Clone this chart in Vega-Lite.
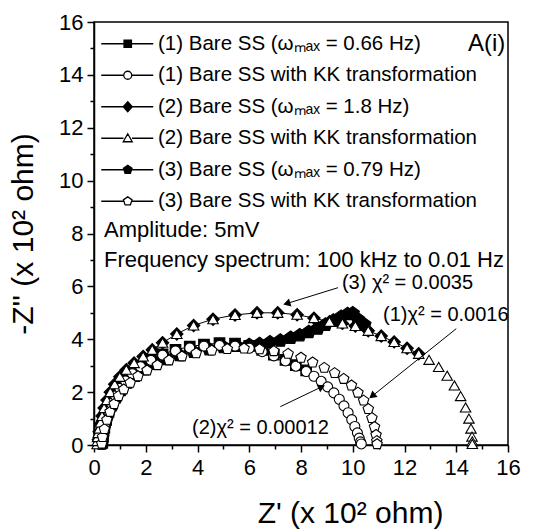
{
"$schema":"https://vega.github.io/schema/vega-lite/v6.json",
"autosize":"none",
"width":414,"height":423,
"padding":{"left":94,"top":22,"right":33,"bottom":86},
"background":"white",
"config":{"font":"Liberation Sans","view":{"stroke":"black","strokeWidth":1.5},
"axis":{"grid":false,"domainColor":"black","domainWidth":1.5,"tickColor":"black","tickWidth":1.5,"labelColor":"black","labelFontSize":22,"labelFont":"Liberation Sans","titleColor":"black","titleFont":"Liberation Sans","titleFontSize":30,"titleFontWeight":"normal","labelOverlap":false,"labelFlush":false}},
"datasets":{
"series":[{"s":"1","name":"(1) Bare SS (ωₘₐₓ = 0.66 Hz)"},{"s":"1K","name":"(1) Bare SS with KK transformation"},{"s":"2","name":"(2) Bare SS (ωₘₐₓ = 1.8 Hz)"},{"s":"2K","name":"(2) Bare SS with KK transformation"},{"s":"3","name":"(3) Bare SS (ωₘₐₓ = 0.79 Hz)"},{"s":"3K","name":"(3) Bare SS with KK transformation"}],
"imp":[
{"s":"1","x":0.32,"y":0.08},{"s":"1","x":0.35,"y":0.35},{"s":"1","x":0.4,"y":0.65},{"s":"1","x":0.47,"y":0.95},{"s":"1","x":0.56,"y":1.25},{"s":"1","x":0.68,"y":1.55},{"s":"1","x":0.83,"y":1.85},{"s":"1","x":1.0,"y":2.13},{"s":"1","x":1.22,"y":2.42},{"s":"1","x":1.48,"y":2.7},{"s":"1","x":1.8,"y":2.97},{"s":"1","x":2.2,"y":3.22},{"s":"1","x":2.65,"y":3.43},{"s":"1","x":3.15,"y":3.6},{"s":"1","x":3.7,"y":3.72},{"s":"1","x":4.25,"y":3.8},{"s":"1","x":4.85,"y":3.85},{"s":"1","x":5.45,"y":3.84},{"s":"1","x":6.0,"y":3.75},{"s":"1","x":6.5,"y":3.6},{"s":"1","x":6.95,"y":3.42},{"s":"1","x":7.4,"y":3.22},{"s":"1","x":7.8,"y":3.02},{"s":"1","x":8.2,"y":2.82},
{"s":"2","x":0.17,"y":0.2},{"s":"2","x":0.2,"y":0.5},{"s":"2","x":0.25,"y":0.8},{"s":"2","x":0.31,"y":1.1},{"s":"2","x":0.39,"y":1.4},{"s":"2","x":0.5,"y":1.7},{"s":"2","x":0.63,"y":2.0},{"s":"2","x":0.8,"y":2.3},{"s":"2","x":1.0,"y":2.58},{"s":"2","x":1.25,"y":2.85},{"s":"2","x":1.55,"y":3.1},{"s":"2","x":1.9,"y":3.35},{"s":"2","x":2.25,"y":3.6},{"s":"2","x":2.65,"y":3.87},{"s":"2","x":3.2,"y":4.2},{"s":"2","x":3.85,"y":4.52},{"s":"2","x":4.6,"y":4.76},{"s":"2","x":5.45,"y":4.92},{"s":"2","x":6.3,"y":5.0},{"s":"2","x":7.1,"y":5.0},{"s":"2","x":7.85,"y":4.93},{"s":"2","x":8.5,"y":4.8},{"s":"2","x":9.1,"y":4.66},{"s":"2","x":9.6,"y":4.6},{"s":"2","x":10.1,"y":4.5},{"s":"2","x":10.6,"y":4.32},{"s":"2","x":11.1,"y":4.12},{"s":"2","x":11.6,"y":3.9},{"s":"2","x":12.1,"y":3.66},{"s":"2","x":12.55,"y":3.45},
{"s":"3","x":0.3,"y":0.05},{"s":"3","x":0.33,"y":0.3},{"s":"3","x":0.38,"y":0.6},{"s":"3","x":0.46,"y":0.9},{"s":"3","x":0.56,"y":1.2},{"s":"3","x":0.7,"y":1.5},{"s":"3","x":0.86,"y":1.8},{"s":"3","x":1.05,"y":2.08},{"s":"3","x":1.3,"y":2.36},{"s":"3","x":1.6,"y":2.62},{"s":"3","x":1.95,"y":2.86},{"s":"3","x":2.35,"y":3.07},{"s":"3","x":2.8,"y":3.25},{"s":"3","x":3.3,"y":3.4},{"s":"3","x":3.85,"y":3.52},{"s":"3","x":4.45,"y":3.62},{"s":"3","x":5.0,"y":3.7},{"s":"3","x":5.5,"y":3.75},{"s":"3","x":6.0,"y":3.78},{"s":"3","x":6.4,"y":3.82},{"s":"3","x":6.8,"y":3.88},{"s":"3","x":7.2,"y":3.95},{"s":"3","x":7.6,"y":4.05},{"s":"3","x":7.95,"y":4.15},{"s":"3","x":8.3,"y":4.27},{"s":"3","x":8.65,"y":4.4},{"s":"3","x":8.95,"y":4.55},{"s":"3","x":9.25,"y":4.7},{"s":"3","x":9.55,"y":4.85},{"s":"3","x":9.8,"y":4.95},{"s":"3","x":10.0,"y":4.98},{"s":"3","x":10.2,"y":4.75},{"s":"3","x":10.45,"y":4.55},
{"s":"1K","x":0.3,"y":0.03},{"s":"1K","x":0.32,"y":0.2},{"s":"1K","x":0.35,"y":0.45},{"s":"1K","x":0.4,"y":0.72},{"s":"1K","x":0.47,"y":1.0},{"s":"1K","x":0.56,"y":1.28},{"s":"1K","x":0.68,"y":1.57},{"s":"1K","x":0.83,"y":1.86},{"s":"1K","x":1.0,"y":2.14},{"s":"1K","x":1.22,"y":2.42},{"s":"1K","x":1.48,"y":2.7},{"s":"1K","x":1.8,"y":2.96},{"s":"1K","x":2.2,"y":3.2},{"s":"1K","x":2.65,"y":3.4},{"s":"1K","x":3.15,"y":3.56},{"s":"1K","x":3.7,"y":3.67},{"s":"1K","x":4.25,"y":3.74},{"s":"1K","x":4.85,"y":3.77},{"s":"1K","x":5.45,"y":3.74},{"s":"1K","x":6.0,"y":3.66},{"s":"1K","x":6.5,"y":3.53},{"s":"1K","x":6.95,"y":3.37},{"s":"1K","x":7.4,"y":3.18},{"s":"1K","x":7.8,"y":2.98},{"s":"1K","x":8.2,"y":2.78},{"s":"1K","x":8.5,"y":2.6},{"s":"1K","x":8.78,"y":2.41},{"s":"1K","x":9.03,"y":2.2},{"s":"1K","x":9.27,"y":1.97},{"s":"1K","x":9.48,"y":1.73},{"s":"1K","x":9.66,"y":1.48},{"s":"1K","x":9.82,"y":1.22},{"s":"1K","x":9.96,"y":0.96},{"s":"1K","x":10.08,"y":0.7},{"s":"1K","x":10.18,"y":0.46},{"s":"1K","x":10.25,"y":0.26},{"s":"1K","x":10.3,"y":0.12},{"s":"1K","x":10.33,"y":0.04},
{"s":"2K","x":0.12,"y":0.03},{"s":"2K","x":0.13,"y":0.15},{"s":"2K","x":0.14,"y":0.3},{"s":"2K","x":0.16,"y":0.45},{"s":"2K","x":0.2,"y":0.62},{"s":"2K","x":0.25,"y":0.85},{"s":"2K","x":0.31,"y":1.1},{"s":"2K","x":0.39,"y":1.4},{"s":"2K","x":0.5,"y":1.7},{"s":"2K","x":0.63,"y":2.0},{"s":"2K","x":0.8,"y":2.3},{"s":"2K","x":1.0,"y":2.58},{"s":"2K","x":1.25,"y":2.85},{"s":"2K","x":1.55,"y":3.1},{"s":"2K","x":1.9,"y":3.35},{"s":"2K","x":2.25,"y":3.6},{"s":"2K","x":2.65,"y":3.87},{"s":"2K","x":3.2,"y":4.2},{"s":"2K","x":3.85,"y":4.52},{"s":"2K","x":4.6,"y":4.76},{"s":"2K","x":5.45,"y":4.92},{"s":"2K","x":6.3,"y":5.0},{"s":"2K","x":7.1,"y":5.0},{"s":"2K","x":7.85,"y":4.93},{"s":"2K","x":8.5,"y":4.8},{"s":"2K","x":9.1,"y":4.66},{"s":"2K","x":9.6,"y":4.6},{"s":"2K","x":10.1,"y":4.5},{"s":"2K","x":10.6,"y":4.32},{"s":"2K","x":11.1,"y":4.12},{"s":"2K","x":11.6,"y":3.9},{"s":"2K","x":12.1,"y":3.66},{"s":"2K","x":12.55,"y":3.45},{"s":"2K","x":12.95,"y":3.22},{"s":"2K","x":13.32,"y":2.95},{"s":"2K","x":13.65,"y":2.62},{"s":"2K","x":13.93,"y":2.25},{"s":"2K","x":14.17,"y":1.85},{"s":"2K","x":14.36,"y":1.42},{"s":"2K","x":14.49,"y":1.0},{"s":"2K","x":14.57,"y":0.62},{"s":"2K","x":14.61,"y":0.32},{"s":"2K","x":14.62,"y":0.14},{"s":"2K","x":14.62,"y":0.04},
{"s":"3K","x":0.3,"y":0.05},{"s":"3K","x":0.33,"y":0.3},{"s":"3K","x":0.4,"y":0.6},{"s":"3K","x":0.5,"y":0.95},{"s":"3K","x":0.62,"y":1.25},{"s":"3K","x":0.78,"y":1.55},{"s":"3K","x":0.95,"y":1.85},{"s":"3K","x":1.15,"y":2.1},{"s":"3K","x":1.4,"y":2.35},{"s":"3K","x":1.7,"y":2.6},{"s":"3K","x":2.05,"y":2.82},{"s":"3K","x":2.45,"y":3.02},{"s":"3K","x":2.9,"y":3.2},{"s":"3K","x":3.4,"y":3.35},{"s":"3K","x":3.95,"y":3.47},{"s":"3K","x":4.55,"y":3.57},{"s":"3K","x":5.15,"y":3.63},{"s":"3K","x":5.8,"y":3.65},{"s":"3K","x":6.4,"y":3.62},{"s":"3K","x":6.95,"y":3.55},{"s":"3K","x":7.5,"y":3.45},{"s":"3K","x":8.0,"y":3.3},{"s":"3K","x":8.45,"y":3.12},{"s":"3K","x":8.9,"y":2.92},{"s":"3K","x":9.3,"y":2.72},{"s":"3K","x":9.65,"y":2.5},{"s":"3K","x":9.95,"y":2.25},{"s":"3K","x":10.2,"y":1.98},{"s":"3K","x":10.42,"y":1.68},{"s":"3K","x":10.6,"y":1.36},{"s":"3K","x":10.74,"y":1.02},{"s":"3K","x":10.84,"y":0.68},{"s":"3K","x":10.9,"y":0.38},{"s":"3K","x":10.93,"y":0.15},{"s":"3K","x":10.94,"y":0.03}
],
"notes":[{"t":"Amplitude: 5mV","x":0.39,"y":8.13},{"t":"Frequency spectrum: 100 kHz to 0.01 Hz","x":0.39,"y":6.98}],
"chi":[{"t":"(3) χ² = 0.0035","x":9.58,"y":6.13},{"t":"(1)χ² = 0.0016","x":11.17,"y":4.92},{"t":"(2)χ² = 0.00012","x":3.79,"y":0.64}],
"panel":[{"t":"A(i)","x":14.45,"y":15.17}],
"arrows":[{"a":"3","x":9.43,"y":5.95,"x2":7.45,"y2":5.35},{"a":"1","x":14.0,"y":4.4,"x2":10.75,"y2":1.85},{"a":"2","x":7.2,"y":1.45,"x2":8.8,"y2":2.2}]
},
"encoding":{
"x":{"field":"x","type":"quantitative","scale":{"domain":[0,16],"nice":false},"axis":{"title":"Z' (x 10² ohm)","values":[0,1,2,3,4,5,6,7,8,9,10,11,12,13,14,15,16],"labelExpr":"datum.value % 2 == 0 ? datum.label : ''","tickSize":{"condition":{"test":"datum.value % 2 == 0","value":7},"value":4},"labelPadding":5,"titlePadding":20,"titleX":256}},
"y":{"field":"y","type":"quantitative","scale":{"domain":[0,16],"nice":false},"axis":{"title":"-Z'' (x 10² ohm)","values":[0,1,2,3,4,5,6,7,8,9,10,11,12,13,14,15,16],"labelExpr":"datum.value % 2 == 0 ? datum.label : ''","tickSize":{"condition":{"test":"datum.value % 2 == 0","value":7},"value":4},"labelPadding":4,"titlePadding":20}}
},
"layer":[
{"data":{"name":"series"},"transform":[{"filter":"false"}],
 "mark":{"type":"point","filled":true,"opacity":1,"strokeWidth":1.3},
 "encoding":{
  "shape":{"field":"name","type":"nominal","scale":{"domain":["(1) Bare SS (ωₘₐₓ = 0.66 Hz)","(1) Bare SS with KK transformation","(2) Bare SS (ωₘₐₓ = 1.8 Hz)","(2) Bare SS with KK transformation","(3) Bare SS (ωₘₐₓ = 0.79 Hz)","(3) Bare SS with KK transformation"],"range":["M-5.3,0H-0.8M0.8,0H5.1M-0.74,-0.74H0.74V0.74H-0.74Z","M-5.3,0H-0.8M0.8,0H5.1M0.8,0A0.8,0.8 0 1,1 -0.8,0A0.8,0.8 0 1,1 0.8,0Z","M-5.3,0H-0.9M0.9,0H5.1M0,-1L0.9,0L0,1L-0.9,0Z","M-5.3,0H-0.85M0.85,0H5.1M0,-0.9L0.9,0.7L-0.9,0.7Z","M-5.3,0H-0.85M0.85,0H5.1M0,-0.9L0.856,-0.278L0.529,0.728L-0.529,0.728L-0.856,-0.278Z","M-5.3,0H-0.85M0.85,0H5.1M0,-0.9L0.856,-0.278L0.529,0.728L-0.529,0.728L-0.856,-0.278Z"]},
   "legend":{"orient":"none","legendX":23.5,"legendY":11.5,"title":null,"padding":0,"labelFont":"Liberation Sans","labelFontSize":20.5,"labelColor":"black","labelLimit":500,"labelOffset":20,"symbolSize":100,"symbolStrokeWidth":1.3,"symbolStrokeColor":"black","symbolOpacity":1,"rowPadding":10.5}},
  "fill":{"field":"name","type":"nominal","scale":{"domain":["(1) Bare SS (ωₘₐₓ = 0.66 Hz)","(1) Bare SS with KK transformation","(2) Bare SS (ωₘₐₓ = 1.8 Hz)","(2) Bare SS with KK transformation","(3) Bare SS (ωₘₐₓ = 0.79 Hz)","(3) Bare SS with KK transformation"],"range":["black","white","black","white","black","white"]}},
  "stroke":{"field":"name","type":"nominal","scale":{"domain":["(1) Bare SS (ωₘₐₓ = 0.66 Hz)","(1) Bare SS with KK transformation","(2) Bare SS (ωₘₐₓ = 1.8 Hz)","(2) Bare SS with KK transformation","(3) Bare SS (ωₘₐₓ = 0.79 Hz)","(3) Bare SS with KK transformation"],"range":["black","black","black","black","black","black"]}}
 }},
{"data":{"name":"imp"},"transform":[{"filter":"datum.s=='1'||datum.s=='2'||datum.s=='3'"}],
 "mark":{"type":"line","stroke":"black","strokeWidth":1},
 "encoding":{"detail":{"field":"s","type":"nominal"}}},
{"data":{"name":"imp"},"transform":[{"filter":"datum.s=='1'||datum.s=='2'||datum.s=='3'"}],
 "mark":{"type":"point","filled":true,"fill":"black","stroke":"black","strokeWidth":1.2,"opacity":1},
 "encoding":{
  "shape":{"field":"s","type":"nominal","scale":{"domain":["1","2","3"],"range":["square","diamond","M0,-1L0.951,-0.309L0.588,0.809L-0.588,0.809L-0.951,-0.309Z"]},"legend":null},
  "size":{"field":"s","type":"nominal","scale":{"domain":["1","2","3"],"range":[110,190,180]},"legend":null}}},
{"data":{"name":"imp"},"transform":[{"filter":"datum.s=='1K'||datum.s=='2K'||datum.s=='3K'"}],
 "mark":{"type":"point","filled":true,"fill":"white","stroke":"black","strokeWidth":1.1,"opacity":1},
 "encoding":{
  "shape":{"field":"s","type":"nominal","scale":{"domain":["1K","2K","3K"],"range":["circle","triangle-up","M0,-1L0.951,-0.309L0.588,0.809L-0.588,0.809L-0.951,-0.309Z"]},"legend":null},
  "size":{"field":"s","type":"nominal","scale":{"domain":["1K","2K","3K"],"range":[100,120,160]},"legend":null}}},
{"data":{"name":"notes"},"mark":{"type":"text","align":"left","baseline":"middle","fontSize":22,"color":"black"},"encoding":{"text":{"field":"t"}}},
{"data":{"name":"chi"},"mark":{"type":"text","align":"left","baseline":"middle","fontSize":20,"color":"black"},"encoding":{"text":{"field":"t"}}},
{"data":{"name":"panel"},"mark":{"type":"text","align":"left","baseline":"middle","fontSize":24,"color":"black"},"encoding":{"text":{"field":"t"}}},
{"data":{"name":"arrows"},"mark":{"type":"rule","stroke":"black","strokeWidth":1},"encoding":{"x2":{"field":"x2"},"y2":{"field":"y2"}}},
{"data":{"name":"arrows"},"transform":[{"filter":"datum.a=='3'"}],"mark":{"type":"point","shape":"triangle-right","filled":true,"color":"black","size":70,"angle":163,"opacity":1},"encoding":{"x":{"field":"x2","type":"quantitative"},"y":{"field":"y2","type":"quantitative"}}},
{"data":{"name":"arrows"},"transform":[{"filter":"datum.a=='1'"}],"mark":{"type":"point","shape":"triangle-right","filled":true,"color":"black","size":70,"angle":141.3,"opacity":1},"encoding":{"x":{"field":"x2","type":"quantitative"},"y":{"field":"y2","type":"quantitative"}}},
{"data":{"name":"arrows"},"transform":[{"filter":"datum.a=='2'"}],"mark":{"type":"point","shape":"triangle-right","filled":true,"color":"black","size":70,"angle":334.4,"opacity":1},"encoding":{"x":{"field":"x2","type":"quantitative"},"y":{"field":"y2","type":"quantitative"}}}
],
"resolve":{"scale":{"shape":"independent","fill":"independent","size":"independent","stroke":"independent"}}
}
